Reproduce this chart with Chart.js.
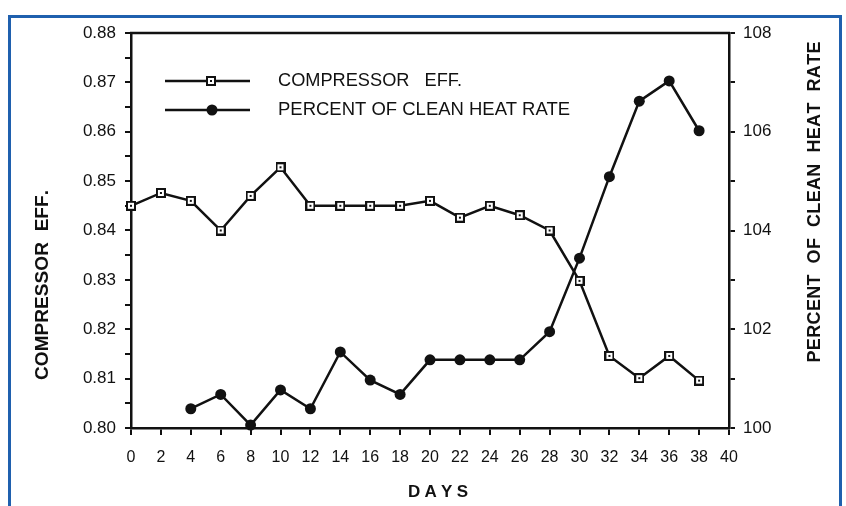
<!DOCTYPE html>
<html>
<head>
<meta charset="utf-8">
<title>Compressor efficiency vs heat rate</title>
<script src="https://cdn.jsdelivr.net/npm/chart.js@4.4.0/dist/chart.umd.min.js"></script>
<style>
    html, body { margin: 0; padding: 0; background: #fff; }
    #wrap { position: relative; width: 846px; height: 506px; overflow: hidden; }
    #frame { position: absolute; left: 8px; top: 15px; width: 828px; height: 520px; border: 3px solid #1f60ae; border-bottom: none; }
    #chart { position: absolute; left: 0; top: 0; }
</style>
</head>
<body>
<div id="wrap">
    <div id="frame"></div>
    <canvas id="chart" width="846" height="506"></canvas>
</div>
<script>
// Data
const days = [0, 2, 4, 6, 8, 10, 12, 14, 16, 18, 20, 22, 24, 26, 28, 30, 32, 34, 36, 38];
const compressorEff = [0.845, 0.8476, 0.846, 0.840, 0.847, 0.8528, 0.845, 0.845, 0.845, 0.845,
                       0.846, 0.8426, 0.845, 0.8431, 0.840, 0.8298, 0.8146, 0.8101, 0.8146, 0.8096];
const heatRate = [null, null, 100.39, 100.68, 100.06, 100.77, 100.39, 101.54, 100.97, 100.68,
                  101.38, 101.38, 101.38, 101.38, 101.95, 103.44, 105.09, 106.62, 107.03, 106.02];

const seriesNames = ['COMPRESSOR   EFF.', 'PERCENT OF CLEAN HEAT RATE'];
const leftTitle = 'COMPRESSOR  EFF.';
const rightTitle = 'PERCENT  OF  CLEAN  HEAT  RATE';
const xTitle = 'DAYS';

const ink = '#111';
const fontName = 'Arial, "Liberation Sans", Helvetica, sans-serif';

// hollow square marker with a small dot in the middle
function makeSquareMarker() {
    const c = document.createElement('canvas');
    c.width = 10; c.height = 10;
    const g = c.getContext('2d');
    g.fillStyle = ink; g.fillRect(0, 0, 10, 10);
    g.fillStyle = '#fff'; g.fillRect(2, 2, 6, 6);
    g.fillStyle = ink; g.fillRect(4, 4, 2, 2);
    return c;
}
const squareMarker = makeSquareMarker();

// text squeezed/stretched to a given width
function fitText(ctx, text, cx, cy, width, font, rot) {
    ctx.save();
    ctx.font = font;
    const w = ctx.measureText(text).width;
    ctx.translate(cx, cy);
    if (rot) ctx.rotate(rot);
    ctx.scale(width / w, 1);
    ctx.textAlign = 'center';
    ctx.textBaseline = 'middle';
    ctx.fillStyle = ink;
    ctx.fillText(text, 0, 0);
    ctx.restore();
}

// text with extra letter spacing to fill a width
function spacedText(ctx, text, cx, cy, width, font, rot) {
    ctx.save();
    ctx.font = font;
    const widths = [...text].map(ch => ctx.measureText(ch).width);
    const total = widths.reduce((a, b) => a + b, 0);
    const gap = (width - total) / (text.length - 1);
    ctx.translate(cx, cy);
    if (rot) ctx.rotate(rot);
    ctx.textAlign = 'left';
    ctx.textBaseline = 'middle';
    ctx.fillStyle = ink;
    let x = -width / 2;
    [...text].forEach((ch, i) => {
        ctx.fillText(ch, x, 0);
        x += widths[i] + gap;
    });
    ctx.restore();
}

const decorations = {
    id: 'decorations',
    afterDraw(chart) {
        const ctx = chart.ctx;
        const a = chart.chartArea;

        // top edge of the plot box
        ctx.save();
        ctx.strokeStyle = ink;
        ctx.lineWidth = 2.5;
        ctx.beginPath();
        ctx.moveTo(a.left - 1, a.top);
        ctx.lineTo(a.right + 1, a.top);
        ctx.stroke();

        // legend
        const rows = [81, 110];
        ctx.lineWidth = 2.5;
        rows.forEach(y => {
            ctx.beginPath();
            ctx.moveTo(165, y);
            ctx.lineTo(250, y);
            ctx.stroke();
        });
        ctx.drawImage(squareMarker, 206, rows[0] - 5);
        ctx.fillStyle = ink;
        ctx.beginPath();
        ctx.arc(212, rows[1], 5.5, 0, Math.PI * 2);
        ctx.fill();
        ctx.restore();

        fitText(ctx, seriesNames[0], 278 + 92, rows[0], 184, '18px ' + fontName);
        fitText(ctx, seriesNames[1], 278 + 146, rows[1], 292, '18px ' + fontName);

        // axis titles
        spacedText(ctx, leftTitle, 43, 285, 190, 'bold 19px ' + fontName, -Math.PI / 2);
        spacedText(ctx, rightTitle, 815, 202, 321, 'bold 18px ' + fontName, -Math.PI / 2);
        spacedText(ctx, xTitle, 438, 492, 60, 'bold 17px ' + fontName);
    }
};

const ctx = document.getElementById('chart').getContext('2d');
new Chart(ctx, {
    type: 'line',
    data: {
        datasets: [{
            label: seriesNames[0],
            data: days.map((d, i) => ({ x: d, y: compressorEff[i] })),
            yAxisID: 'y',
            borderColor: ink,
            borderWidth: 2.5,
            pointStyle: squareMarker,
            pointRadius: 5,
            clip: false
        }, {
            label: seriesNames[1],
            data: days.map((d, i) => ({ x: d, y: heatRate[i] })),
            yAxisID: 'y1',
            borderColor: ink,
            backgroundColor: ink,
            borderWidth: 2.5,
            pointStyle: 'circle',
            pointRadius: 5.5,
            pointBackgroundColor: ink,
            pointBorderWidth: 0,
            clip: false
        }]
    },
    options: {
        responsive: false,
        animation: false,
        devicePixelRatio: 1,
        layout: { padding: { top: 33, left: 0, right: 0, bottom: 0 } },
        plugins: { legend: { display: false }, tooltip: { enabled: false } },
        scales: {
            x: {
                type: 'linear',
                min: 0,
                max: 40,
                afterFit(scale) { scale.height = 78; },
                border: { color: ink, width: 2.5 },
                grid: { drawOnChartArea: false, tickLength: 7, color: ink, lineWidth: 2 },
                ticks: {
                    stepSize: 2,
                    autoSkip: false,
                    maxRotation: 0,
                    padding: 13,
                    color: ink,
                    font: { family: fontName, size: 16 }
                }
            },
            y: {
                position: 'left',
                min: 0.80,
                max: 0.88,
                afterFit(scale) { scale.width = 131; },
                border: { color: ink, width: 2.5 },
                grid: { drawOnChartArea: false, tickLength: 6, color: ink, lineWidth: 2 },
                ticks: {
                    stepSize: 0.005,
                    autoSkip: false,
                    padding: 9,
                    color: ink,
                    font: { family: fontName, size: 17 },
                    callback: v => (Math.round(v * 1000) % 10 === 0 ? v.toFixed(2) : '')
                }
            },
            y1: {
                position: 'right',
                min: 100,
                max: 108,
                afterFit(scale) { scale.width = 117; },
                border: { color: ink, width: 2.5 },
                grid: { drawOnChartArea: false, tickLength: 6, color: ink, lineWidth: 2 },
                ticks: {
                    stepSize: 1,
                    autoSkip: false,
                    padding: 8,
                    color: ink,
                    font: { family: fontName, size: 17 },
                    callback: v => (Math.round(v) % 2 === 0 ? String(v) : '')
                }
            }
        }
    },
    plugins: [decorations]
});
</script>
</body>
</html>
